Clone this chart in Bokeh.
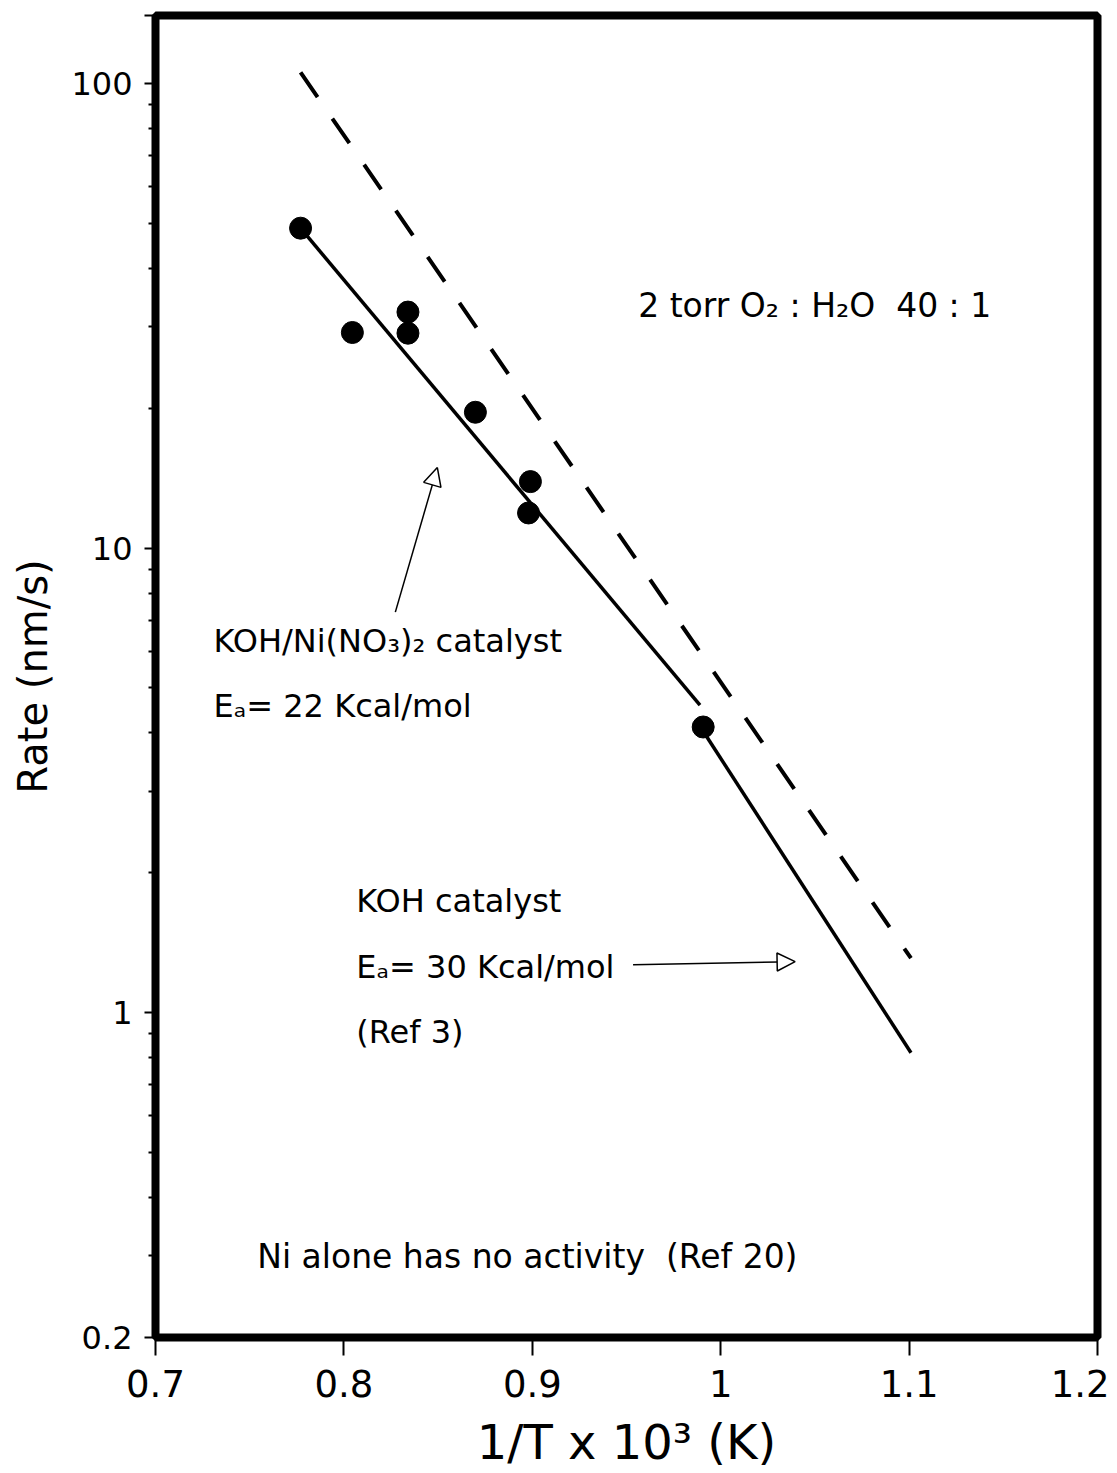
from bokeh.plotting import figure
from bokeh.models import (ColumnDataSource, FixedTicker, CustomJSTickFormatter,
                          Arrow, NormalHead, Range1d)
from bokeh.core.properties import value
from bokeh.embed import file_html
from bokeh.resources import INLINE

# ---- data ----
inv_T = [0.777, 0.8045, 0.834, 0.834, 0.8698, 0.899, 0.898, 0.9907]
rate = [48.8, 29.1, 32.2, 29.0, 19.6, 13.9, 11.9, 4.12]

fit_x = [0.777, 0.989]          # KOH/Ni(NO3)2 fit, 22 kcal/mol
fit_y = [48.8, 4.59]
koh_x = [0.992, 1.101]          # KOH catalyst, 30 kcal/mol (Ref 3)
koh_y = [3.96, 0.82]
dash_x = [0.777, 1.101]         # dashed line
dash_y = [105.6, 1.31]

x_ticks = [0.7, 0.8, 0.9, 1.0, 1.1, 1.2]
y_ticks = [0.2, 1, 10, 100, 140]
y_minor = [0.3, 0.4, 0.5, 0.6, 0.7, 0.8, 0.9,
           2, 3, 4, 5, 6, 7, 8, 9,
           20, 30, 40, 50, 60, 70, 80, 90]

NB = "\u00a0"
ann_text = ["2 torr O\u2082 : H\u2082O " + NB + "40 : 1",
            "KOH/Ni(NO\u2083)\u2082 catalyst",
            "E\u2090= 22 Kcal/mol",
            "KOH catalyst",
            "E\u2090= 30 Kcal/mol",
            "(Ref 3)",
            "Ni alone has no activity " + NB + "(Ref 20)"]
ann_x = [0.9562, 0.7308, 0.7308, 0.8066, 0.8066, 0.8066, 0.754]
ann_y = [33.3, 6.31, 4.57, 1.741, 1.256, 0.91, 0.2985]
ann_size = ["33px", "32px", "32px", "32px", "32px", "32px", "33px"]

arrow1 = dict(x_start=0.8273, y_start=7.28, x_end=0.8496, y_end=14.9)
arrow2 = dict(x_start=0.9535, y_start=1.268, x_end=1.0395, y_end=1.288)

FONT = "DejaVu Sans"

p = figure(frame_width=942, frame_height=1322, y_axis_type="log",
           x_range=Range1d(0.7, 1.2), y_range=Range1d(0.2, 140),
           output_backend="svg", toolbar_location=None,
           min_border_left=155, min_border_top=15, min_border_right=12,
           min_border_bottom=0, background_fill_color="white",
           border_fill_color="white")

p.outline_line_color = "black"
p.outline_line_width = 8
p.xgrid.visible = False
p.ygrid.visible = False

# x axis
xa = p.xaxis[0]
xa.ticker = FixedTicker(ticks=x_ticks)
xa.formatter = CustomJSTickFormatter(code="return String(Number(tick.toFixed(1)));")
xa.axis_line_color = None
xa.major_tick_out = 18
xa.major_tick_in = 0
xa.minor_tick_out = 0
xa.minor_tick_in = 0
xa.major_tick_line_width = 2
xa.major_tick_line_color = "black"
xa.major_label_text_font = FONT
xa.major_label_text_font_size = "37px"
xa.major_label_text_color = "black"
xa.major_label_standoff = 14
xa.axis_label = "1/T x 10\u00b3 (K)"
xa.axis_label_text_font = FONT
xa.axis_label_text_font_size = "48px"
xa.axis_label_text_font_style = "normal"
xa.axis_label_text_color = "black"
xa.axis_label_standoff = 14

# y axis
ya = p.yaxis[0]
ya.ticker = FixedTicker(ticks=y_ticks, minor_ticks=y_minor)
ya.formatter = CustomJSTickFormatter(
    code="return tick > 120 ? '' : String(Number(tick.toPrecision(4)));")
ya.axis_line_color = None
ya.major_tick_out = 11
ya.major_tick_in = 0
ya.minor_tick_out = 7
ya.minor_tick_in = 0
ya.major_tick_line_width = 2
ya.minor_tick_line_width = 2
ya.major_tick_line_color = "black"
ya.minor_tick_line_color = "black"
ya.major_label_text_font = FONT
ya.major_label_text_font_size = "32px"
ya.major_label_text_color = "black"
ya.major_label_standoff = 12
ya.axis_label = "Rate (nm/s)"
ya.axis_label_text_font = FONT
ya.axis_label_text_font_size = "40px"
ya.axis_label_text_font_style = "normal"
ya.axis_label_text_color = "black"
ya.axis_label_standoff = 12

# lines
p.line(dash_x, dash_y, line_color="black", line_width=4, line_dash="30 26")
p.line(fit_x, fit_y, line_color="black", line_width=3.5)
p.line(koh_x, koh_y, line_color="black", line_width=3.5)

# points
p.scatter(inv_T, rate, size=22, fill_color="black", line_color="black")

# arrows
for a in (arrow1, arrow2):
    p.add_layout(Arrow(end=NormalHead(size=18, fill_color="white",
                                      line_color="black", line_width=1.5),
                       line_color="black", line_width=1.5, **a))

# annotations
src = ColumnDataSource(dict(x=ann_x, y=ann_y, text=ann_text, size=ann_size))
p.text(x="x", y="y", text="text", source=src, text_font=value(FONT),
       text_font_size="size", text_baseline="middle", text_align="left",
       text_color="black")

open("out.html", "w").write(file_html(p, INLINE))
